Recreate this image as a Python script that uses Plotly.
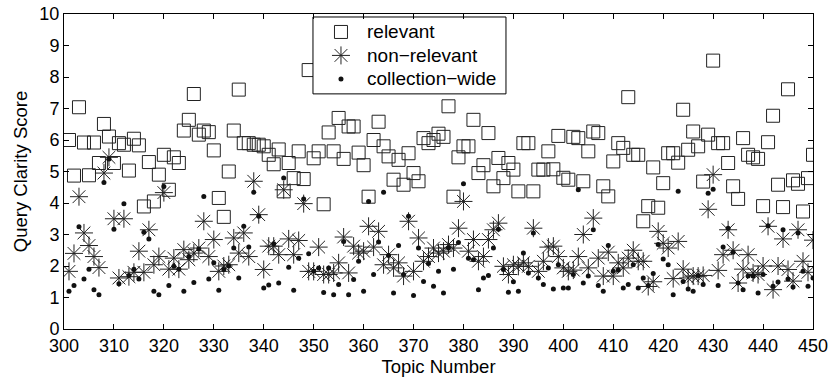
import plotly.graph_objects as go

topics = list(range(301, 451))

relevant = [
    6.0, 4.87, 7.04, 5.92, 4.88, 5.92, 5.27, 6.51, 6.11, 5.27,
    5.9, 5.85, 5.03, 6.04, 5.83, 3.89, 5.3, 4.05, 4.9, 5.53,
    4.42, 5.45, 5.27, 6.3, 6.64, 7.46, 6.17, 6.3, 6.25, 5.67,
    4.16, 3.56, 5.0, 6.3, 7.6, 5.9, 5.9, 5.85, 5.85, 5.8,
    5.53, 5.23, 5.7, 4.37, 5.27, 4.79, 5.64, 4.76, 8.22, 5.42,
    5.64, 3.96, 6.24, 5.64, 6.7, 5.4, 6.43, 6.43, 5.6, 5.2,
    4.2, 6.0, 6.58, 5.8, 5.48, 4.74, 5.37, 4.58, 5.58, 4.95,
    4.69, 6.06, 5.9, 6.0, 6.2, 6.1, 7.07, 4.2, 5.45, 5.8,
    5.8, 6.64, 4.95, 5.2, 6.22, 4.53, 5.43, 4.79, 5.27, 5.06,
    4.37, 5.9, 5.9, 4.37, 5.06, 5.06, 5.64, 5.07, 6.13, 4.8,
    4.74, 6.1, 6.06, 4.69, 5.64, 6.27, 6.22, 4.53, 4.21, 5.32,
    5.9, 5.75, 7.36, 5.53, 5.53, 3.42, 3.9, 5.13, 3.85, 4.63,
    5.58, 5.58, 5.28, 6.96, 5.69, 6.27, 5.8, 4.68, 6.17, 8.52,
    5.9, 5.9, 5.27, 4.53, 4.13, 6.06, 5.53, 5.45, 5.4, 3.9,
    5.93, 6.77, 4.58, 3.87, 7.61, 4.72, 4.61, 3.73, 4.79, 5.53,
]

non_relevant = [
    1.83, 2.4, 4.2, 3.05, 2.65, 2.3, 1.95, 4.95, 5.45, 3.5,
    1.62, 3.5, 1.66, 1.8, 2.47, 1.8, 3.15, 2.04, 2.3, 4.33,
    1.9, 2.25, 1.9, 2.52, 2.2, 2.41, 2.57, 3.42, 2.3, 2.84,
    1.83, 2.0, 2.04, 2.89, 2.41, 3.05, 2.3, 4.69, 3.63, 1.89,
    2.63, 2.63, 2.36, 4.42, 2.86, 2.36, 2.81, 3.98, 1.83, 1.83,
    2.6, 1.73, 1.73, 1.78, 2.1, 2.92, 1.78, 2.63, 2.41, 2.47,
    3.26, 2.6, 3.1, 2.04, 2.36, 1.94, 2.1, 1.68, 3.42, 1.83,
    2.89, 2.15, 2.3, 2.57, 2.41, 2.47, 2.68, 2.57, 3.2, 4.05,
    2.47, 2.84, 2.15, 2.3, 2.84, 3.15, 3.36, 1.99, 1.73, 2.04,
    1.99, 2.1, 1.99, 3.2, 1.83, 2.15, 2.6, 2.63, 2.3, 1.94,
    1.83, 1.87, 2.3, 3.0, 1.94, 3.52, 2.25, 1.68, 2.44, 1.68,
    2.1, 1.94, 2.25, 2.5, 2.15, 2.15, 1.35, 1.5, 3.1, 2.72,
    2.57, 1.6, 2.78, 1.9, 1.62, 1.68, 1.68, 1.7, 3.8, 4.9,
    1.86, 2.36, 3.15, 2.5, 1.46, 1.9, 2.36, 1.78, 1.73, 2.0,
    3.26, 1.25, 2.0, 2.86, 1.89, 1.52, 3.15, 2.15, 1.8, 2.82,
]

collection_wide = [
    1.2, 1.38, 3.25, 1.59, 1.9, 1.25, 1.09, 4.65, 5.4, 3.17,
    1.44, 3.98, 1.7, 1.9, 1.59, 3.07, 2.86, 1.2, 1.09, 4.52,
    1.38, 1.99, 1.9, 1.2, 2.3, 1.48, 2.54, 4.21, 1.59, 2.1,
    1.23, 1.89, 2.0, 2.57, 1.62, 3.26, 2.6, 4.34, 3.58, 1.3,
    1.4, 2.71, 1.46, 4.79, 1.96, 1.23, 2.25, 4.13, 2.39, 1.83,
    1.94, 1.16, 1.94, 1.09, 1.41, 2.78, 1.09, 1.57, 2.15, 1.2,
    4.05, 1.73, 2.76, 4.34, 2.33, 1.14, 2.65, 1.73, 3.58, 1.06,
    2.57, 1.51, 2.08, 1.36, 1.83, 1.14, 2.57, 1.9, 2.75, 4.61,
    2.25, 2.2, 1.25, 1.62, 1.7, 2.57, 3.17, 1.89, 1.17, 1.5,
    1.2, 2.41, 1.78, 3.05, 1.62, 1.41, 1.94, 1.27, 2.04, 1.3,
    1.3, 1.73, 4.42, 1.46, 1.68, 3.15, 1.38, 1.2, 2.65, 1.83,
    1.87, 1.3, 1.41, 2.04, 1.3, 1.62, 1.38, 1.76, 2.68, 2.22,
    2.04, 1.09, 4.37, 1.51, 1.27, 1.2, 1.7, 1.41, 4.31, 4.44,
    1.38, 2.6, 3.2, 2.44, 1.46, 1.25, 1.68, 1.68, 1.14, 1.73,
    3.28, 1.36, 1.49, 3.15, 1.59, 1.33, 3.05, 1.83, 1.36, 1.62,
]

series_names = ["relevant", "non\u2212relevant", "collection\u2212wide"]

x_ticks = list(range(300, 451, 10))
y_ticks = list(range(0, 11))

FONT = "Liberation Sans, Arial, Helvetica, sans-serif"
INK = "#222222"

marker_styles = [
    dict(symbol="square-open", size=13, color=INK, line=dict(width=1, color=INK)),
    dict(symbol="asterisk-open", size=15, color=INK, line=dict(width=1, color=INK)),
    dict(symbol="circle", size=5, color="#111111", line=dict(width=0)),
]

fig = go.Figure()

for name, values, style in zip(series_names, [relevant, non_relevant, collection_wide], marker_styles):
    fig.add_trace(go.Scatter(
        x=topics, y=values, mode="markers", name=name,
        marker=style, showlegend=False,
    ))

# Legend drawn in an overlay coordinate frame (0..1 over the plot area) so the
# box is opaque over the data and the row spacing can be set directly.
box_x0, box_x1 = 0.3324, 0.5901
box_y0, box_y1 = 0.7464, 0.9905
sym_x, text_x = 0.3698, 0.4019
row_y = [0.943, 0.8685, 0.794]

fig.add_trace(go.Scatter(
    x=[box_x0, box_x1, box_x1, box_x0, box_x0],
    y=[box_y0, box_y0, box_y1, box_y1, box_y0],
    mode="lines", fill="toself", fillcolor="#ffffff",
    line=dict(color="#000000", width=1),
    xaxis="x2", yaxis="y2", showlegend=False, hoverinfo="skip",
))
for name, style, ry in zip(series_names, marker_styles, row_y):
    fig.add_trace(go.Scatter(
        x=[sym_x], y=[ry], mode="markers", marker=style,
        xaxis="x2", yaxis="y2", showlegend=False, hoverinfo="skip",
    ))
    fig.add_annotation(
        x=text_x, y=ry, xref="x2", yref="y2", text=name, showarrow=False,
        xanchor="left", yanchor="middle",
        font=dict(family=FONT, size=19, color="#000000"),
    )

axis_common = dict(
    showgrid=False, zeroline=False, showline=True, linecolor="#000000", linewidth=1,
    mirror="allticks", ticks="inside", ticklen=5, tickcolor="#000000", tickwidth=1,
    tickfont=dict(family=FONT, size=18, color="#000000"),
    automargin=False,
)

fig.update_xaxes(
    range=[300, 450], tickvals=x_ticks, ticktext=[str(v) for v in x_ticks],
    title=dict(text="Topic Number", font=dict(family=FONT, size=18.5, color="#000000"), standoff=2),
    **axis_common,
)
fig.update_yaxes(
    range=[0, 10], tickvals=y_ticks, ticktext=[str(v) for v in y_ticks],
    title=dict(text="Query Clarity Score", font=dict(family=FONT, size=18.5, color="#000000"), standoff=6),
    **axis_common,
)

fig.update_layout(
    width=833, height=379,
    margin=dict(l=64, r=20, t=14, b=50),
    paper_bgcolor="#ffffff", plot_bgcolor="#ffffff",
    font=dict(family=FONT, size=18, color="#000000"),
    showlegend=False,
    xaxis2=dict(overlaying="x", range=[0, 1], visible=False, fixedrange=True),
    yaxis2=dict(overlaying="y", range=[0, 1], visible=False, fixedrange=True),
)

fig.write_html("out.html")
